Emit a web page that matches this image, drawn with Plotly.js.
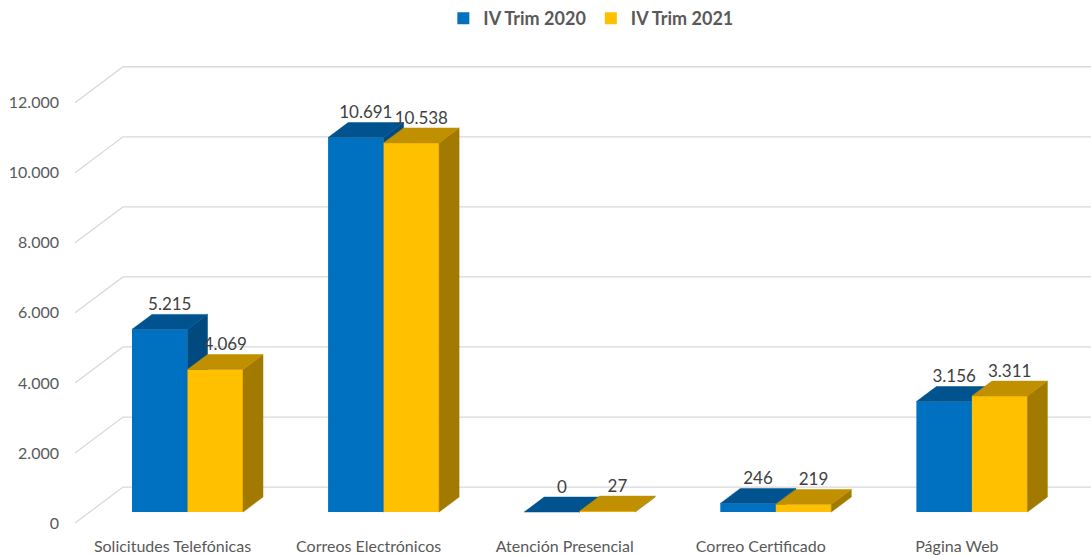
<!DOCTYPE html>
<html>
<head>
<meta charset="utf-8">
<script src="https://cdn.plot.ly/plotly-3.0.1.min.js"></script>
<style>
  html, body { margin: 0; padding: 0; background: #ffffff; }
  #chart { width: 1091px; height: 555px; }
</style>
</head>
<body>
<div id="chart"></div>
<script>
// ---- data ----
const categories = ['Solicitudes Telefónicas', 'Correos Electrónicos', 'Atención Presencial', 'Correo Certificado', 'Página Web'];
const seriesNames = ['IV Trim 2020', 'IV Trim 2021'];
const trim2020 = [5215, 10691, 0, 246, 3156];
const trim2021 = [4069, 10538, 27, 219, 3311];
const yTickVals = [0, 2000, 4000, 6000, 8000, 10000, 12000];

// ---- geometry / style (pixel-derived constants) ----
const PX_PER_CAT = 196.1;
const PX_PER_UNIT = 0.0351;
const BAR_W = 55.5 / PX_PER_CAT;
const DEPTH_X = 20 / PX_PER_CAT;
const DEPTH_Y = 15 / PX_PER_UNIT;
const GRID_X0 = (75 - 187.5) / PX_PER_CAT;
const GRID_X1 = (123 - 187.5) / PX_PER_CAT;
const GRID_DY = 36 / PX_PER_UNIT;
const X_RANGE = [(64 - 187.5) / PX_PER_CAT, (1091 - 187.5) / PX_PER_CAT];
const Y_RANGE = [-(530 - 523) / PX_PER_UNIT, (523 - 40) / PX_PER_UNIT];
const YB_RANGE = [-(530 - 512) / PX_PER_UNIT, (512 - 40) / PX_PER_UNIT];
const LABEL_SHIFT = 15 / PX_PER_CAT;

const COLORS = {
  blue: { front: '#0070C0', top: '#00538F', side: '#004A80' },
  gold: { front: '#FFC000', top: '#C09000', side: '#A27A00' }
};

function fmt(n) { return String(n).replace(/\B(?=(\d{3})+(?!\d))/g, '.'); }

const idx = categories.map((c, i) => i);

// gridlines (diagonal on left wall + horizontal back wall)
const gx = [], gy = [];
yTickVals.forEach(v => {
  gx.push(GRID_X0, GRID_X1, X_RANGE[1], null);
  gy.push(v, v + GRID_DY, v + GRID_DY, null);
});

const traces = [];
traces.push({
  type: 'scatter', mode: 'lines', x: gx, y: gy, xaxis: 'x', yaxis: 'y',
  line: { color: '#D9D9D9', width: 1.3 }, showlegend: false, hoverinfo: 'skip'
});

function addSeries(values, name, col, offset, yaxis) {
  traces.push({
    type: 'bar', name: name, x: idx, y: values, xaxis: 'x', yaxis: yaxis,
    offset: offset, width: BAR_W,
    marker: { color: col.front, line: { width: 0 } },
    hoverinfo: 'skip'
  });
  const tx = [], ty = [], sx = [], sy = [];
  values.forEach((v, i) => {
    const xl = i + offset, xr = xl + BAR_W;
    tx.push(xl, xl + DEPTH_X, xr + DEPTH_X, xr, xl, null);
    ty.push(v, v + DEPTH_Y, v + DEPTH_Y, v, v, null);
    sx.push(xr, xr + DEPTH_X, xr + DEPTH_X, xr, xr, null);
    sy.push(0, DEPTH_Y, v + DEPTH_Y, v, 0, null);
  });
  traces.push({
    type: 'scatter', mode: 'lines', x: sx, y: sy, xaxis: 'x', yaxis: yaxis,
    fill: 'toself', fillcolor: col.side, line: { color: col.side, width: 0.5 },
    showlegend: false, hoverinfo: 'skip'
  });
  traces.push({
    type: 'scatter', mode: 'lines', x: tx, y: ty, xaxis: 'x', yaxis: yaxis,
    fill: 'toself', fillcolor: col.top, line: { color: col.top, width: 0.5 },
    showlegend: false, hoverinfo: 'skip'
  });
}

addSeries(trim2020, seriesNames[0], COLORS.blue, -BAR_W, 'y2');
addSeries(trim2021, seriesNames[1], COLORS.gold, 0, 'y3');

// data labels
const lx = [], ly = [], lt = [];
[[trim2020, -BAR_W], [trim2021, 0]].forEach(([vals, off]) => {
  vals.forEach((v, i) => {
    lx.push(i + off + BAR_W / 2 + DEPTH_X / 2);
    ly.push(v + DEPTH_Y);
    lt.push(fmt(v));
  });
});
traces.push({
  type: 'scatter', mode: 'text', x: lx, y: ly, text: lt, xaxis: 'x', yaxis: 'y3',
  textposition: 'top center', textfont: { family: 'Lato, sans-serif', size: 17, color: '#404040' },
  showlegend: false, hoverinfo: 'skip'
});

const layout = {
  width: 1091, height: 555,
  margin: { l: 64, r: 0, t: 40, b: 25 },
  paper_bgcolor: '#ffffff', plot_bgcolor: 'rgba(0,0,0,0)',
  separators: ',.',
  barmode: 'overlay',
  hovermode: false,
  font: { family: 'Lato, sans-serif', size: 16, color: '#595959' },
  showlegend: true,
  legend: {
    orientation: 'h', x: 0.513, xanchor: 'center', y: 1.045, yanchor: 'middle',
    font: { family: 'Lato, sans-serif', size: 18, color: '#595959', weight: 'bold' },
    itemwidth: 30, traceorder: 'normal'
  },
  xaxis: {
    range: X_RANGE, showgrid: false, zeroline: false, showline: false,
    tickmode: 'array', tickvals: idx.map(i => i - LABEL_SHIFT), ticktext: categories,
    ticks: '', ticklabelstandoff: 5,
    tickfont: { family: 'Lato, sans-serif', size: 16, color: '#595959' }
  },
  yaxis: {
    range: Y_RANGE, showgrid: false, zeroline: false, showline: false,
    tickmode: 'array', tickvals: yTickVals, ticktext: yTickVals.map(fmt), ticks: '',
    ticklabelstandoff: 4,
    tickfont: { family: 'Lato, sans-serif', size: 16, color: '#595959' }
  },
  yaxis2: { range: YB_RANGE, overlaying: 'y', visible: false },
  yaxis3: { range: YB_RANGE, overlaying: 'y', visible: false }
};

Plotly.newPlot('chart', traces, layout, { displayModeBar: false, staticPlot: true });
</script>
</body>
</html>
